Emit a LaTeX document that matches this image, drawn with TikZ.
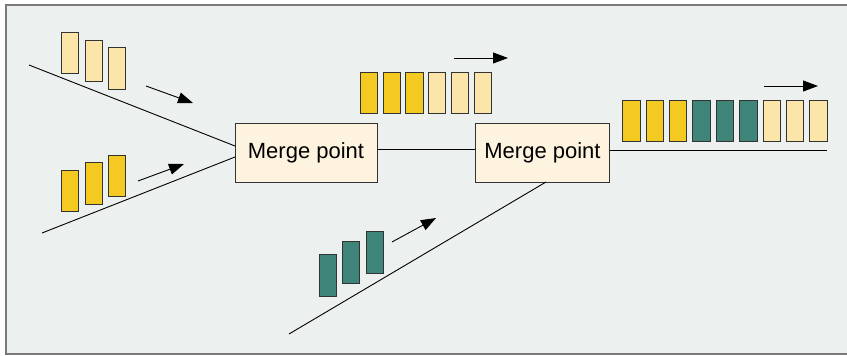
\documentclass[tikz,border=0pt]{standalone}
\usepackage{fontspec}
\setmainfont{Liberation Sans}
\usetikzlibrary{arrows.meta}
\definecolor{bgc}{HTML}{ECF0EF}
\definecolor{framec}{HTML}{7A7A7A}
\definecolor{lighty}{HTML}{FCE5A8}
\definecolor{goldy}{HTML}{F4C922}
\definecolor{teal}{HTML}{3F8478}
\definecolor{boxc}{HTML}{FEF3DF}
\tikzset{
  pkt/.style={draw=black!80, line width=0.9pt},
  merge/.style={draw=black!80, line width=0.9pt, fill=boxc, minimum height=59pt, inner sep=0pt, font=\fontsize{22}{26}\selectfont},
  wire/.style={line width=0.9pt, black},
  flow/.style={line width=0.9pt, -{Triangle[length=15pt,width=11pt]}}
}
\newcommand{\pk}[5]{\filldraw[pkt,fill=#1] (#2,#3) rectangle (#4,#5);}
\begin{document}
\begin{tikzpicture}[x=1pt,y=-1pt]
\useasboundingbox (0,0) rectangle (847,356);
\begin{scope}
\clip (0,0) rectangle (847,356);
\fill[white] (0,0) rectangle (847,356);
\fill[bgc] (6,5) rectangle (860,354);
\draw[framec, line width=1.5pt] (860,5) -- (6,5) -- (6,354) -- (860,354);
\end{scope}
% merge points
\node[merge, minimum width=142pt] (m1) at (306,152.5) {Merge point};
\node[merge, minimum width=133.5pt] (m2) at (542.5,152.5) {Merge point};
% input lines
\coordinate (a1) at (29,65);
\coordinate (a2) at (42,233);
\coordinate (a3) at (289,334);
\coordinate (out) at (827,150);
\coordinate (m1in1) at (235,146);
\coordinate (m1in2) at (235,157);
\coordinate (m2in) at (546,182);
\draw[wire] (a1) -- (m1in1);
\draw[wire] (a2) -- (m1in2);
\draw[wire] (m1.east |- 0,149.5) -- (m2.west |- 0,149.5);
\draw[wire] (m2.east |- out) -- (out);
\draw[wire] (a3) -- (m2in);
% top-left packets
\pk{lighty}{61}{32}{78}{73}
\pk{lighty}{85}{40}{102}{81}
\pk{lighty}{108}{47}{125}{89}
\coordinate (f1s) at (146,86); \coordinate (f1e) at (193,103);
\draw[flow] (f1s) -- (f1e);
% bottom-left packets
\pk{goldy}{61}{170}{78}{211}
\pk{goldy}{85}{162}{102}{204}
\pk{goldy}{108}{155}{125}{196}
\coordinate (f2s) at (138,181); \coordinate (f2e) at (184,164);
\draw[flow] (f2s) -- (f2e);
% middle packets
\foreach \i/\c in {0/goldy,1/goldy,2/goldy,3/lighty,4/lighty,5/lighty}{
  \pk{\c}{360.5+22.7*\i}{72.3}{377.8+22.7*\i}{113.7}
}
\coordinate (f3s) at (454,58); \coordinate (f3e) at (508,58);
\draw[flow] (f3s) -- (f3e);
% right packets
\foreach \i/\c in {0/goldy,1/goldy,2/goldy,3/teal,4/teal,5/teal,6/lighty,7/lighty,8/lighty}{
  \pk{\c}{622.7+23.4*\i}{100}{640+23.4*\i}{141.7}
}
\coordinate (f4s) at (764,86); \coordinate (f4e) at (818,86);
\draw[flow] (f4s) -- (f4e);
% green packets
\pk{teal}{319}{254.3}{336.3}{296.3}
\pk{teal}{342.3}{241.7}{359.7}{283.3}
\pk{teal}{366.3}{231.7}{383.7}{273}
\coordinate (f5s) at (392,242); \coordinate (f5e) at (436,218);
\draw[flow] (f5s) -- (f5e);
\end{tikzpicture}
\end{document}
